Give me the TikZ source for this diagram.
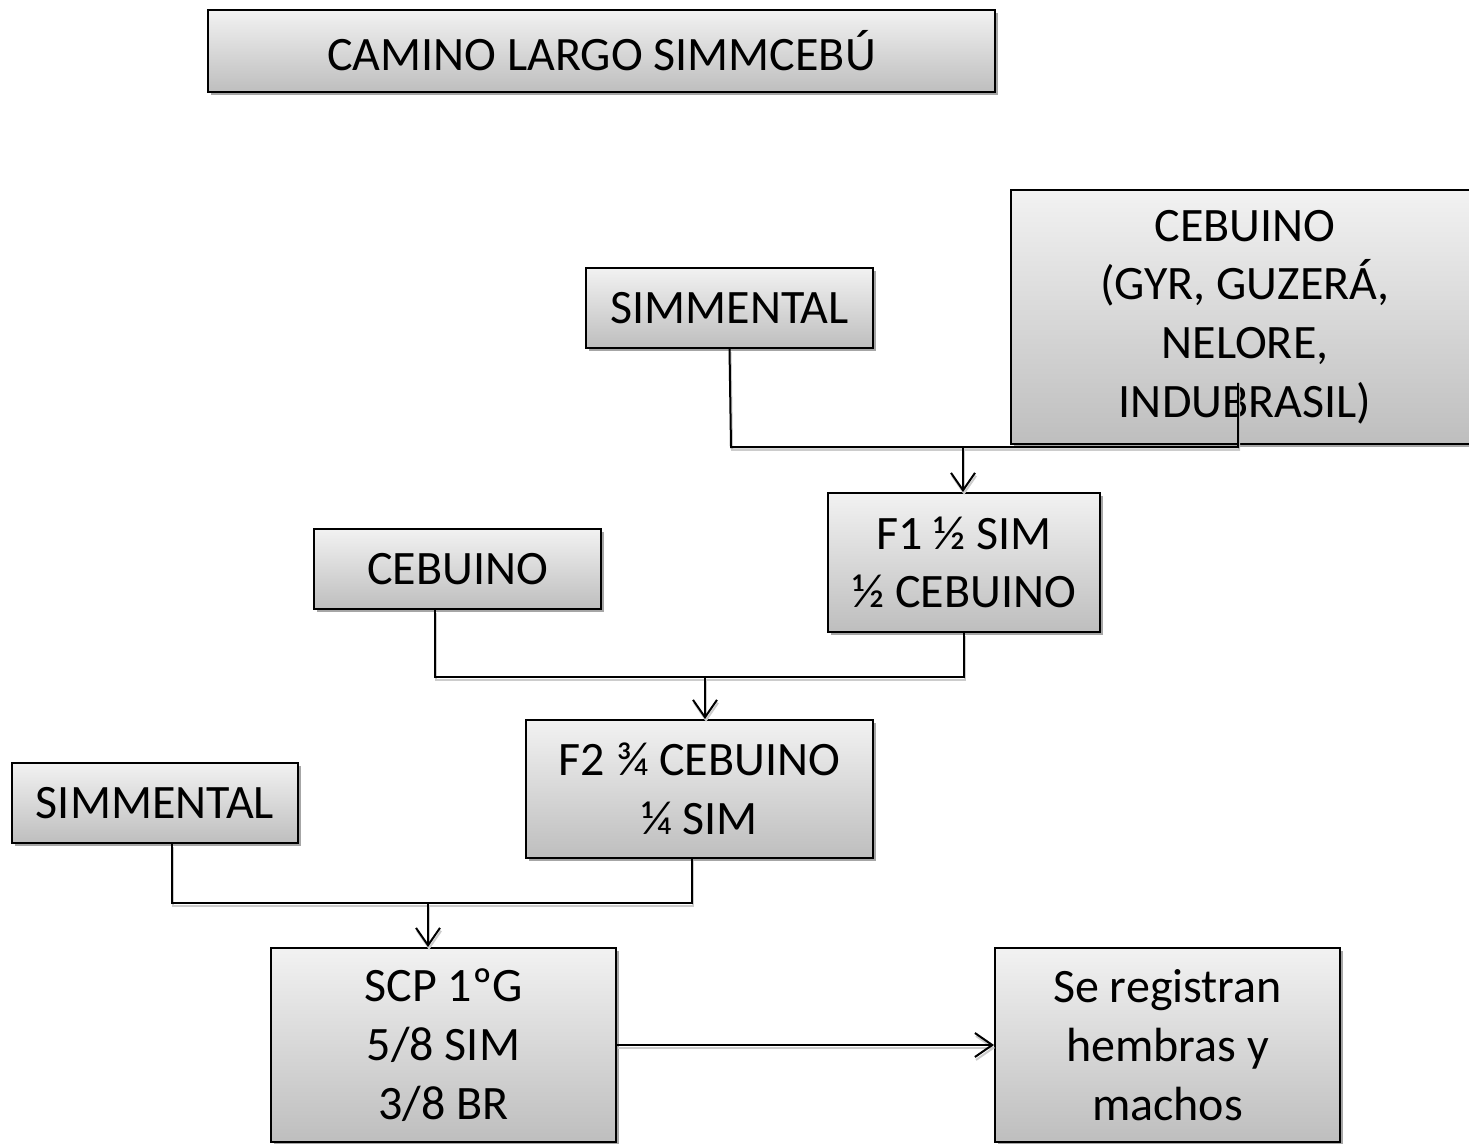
\documentclass[tikz,border=0pt]{standalone}
\usepackage{fontspec}
\setmainfont{Carlito}
\usepackage{tikz}
\usetikzlibrary{shadows,arrows.meta}

\tikzset{
  stepbox/.style={draw=black, line width=1.5pt, rectangle, inner sep=0pt, align=center,
    top color={rgb,255:red,242;green,242;blue,242}, bottom color={rgb,255:red,190;green,190;blue,190},
    drop shadow={shadow xshift=2.5pt, shadow yshift=-2.5pt, fill=gray!70, opacity=1},
    font=\fontsize{36}{44}\selectfont},
  wire/.style={line width=1.5pt, preaction={draw=gray!40, line width=1.5pt, transform canvas={xshift=0.8pt,yshift=-2.2pt}}},
  arr/.style={wire, -{Straight Barb[length=13pt,width=18pt,line width=1.5pt]}}
}

\begin{document}
\begin{tikzpicture}[x=0.75pt,y=0.75pt,yscale=-1,xscale=1]
\useasboundingbox (0,0) rectangle (1469,1144);
\clip (0,0) rectangle (1469,1144);
% Shapes
\node [stepbox, minimum width=590.25pt, minimum height=61.5pt] (title) at (601.5,51) {CAMINO LARGO SIMMCEBÚ};
\node [stepbox, minimum width=215.25pt, minimum height=60pt] (sim1) at (729.5,308) {SIMMENTAL};
\node [stepbox, minimum width=351pt, minimum height=190.5pt] (ceb1) at (1245,317) {CEBUINO\\(GYR, GUZERÁ,\\NELORE,\\INDUBRASIL)};
\node [stepbox, minimum width=204pt, minimum height=104.25pt] (f1) at (964,562.5) {F1 ½ SIM\\½ CEBUINO};
\node [stepbox, minimum width=215.25pt, minimum height=60pt] (ceb2) at (457.5,569) {CEBUINO};
\node [stepbox, minimum width=260.25pt, minimum height=103.5pt] (f2) at (699.5,789) {F2 ¾ CEBUINO\\¼ SIM};
\node [stepbox, minimum width=214.5pt, minimum height=60pt] (sim2) at (155,803) {SIMMENTAL};
\node [stepbox, minimum width=258.75pt, minimum height=145.5pt] (scp) at (443.5,1045) {SCP 1ºG\\5/8 SIM\\3/8 BR};
\node [stepbox, minimum width=258.75pt, minimum height=145.5pt] (reg) at (1167.5,1045) {Se registran\\hembras y\\machos};
% Joints
\coordinate (k1) at (731,447);
\coordinate (c1) at (1238,383);
\coordinate (j1) at (963,447);
\coordinate (k2) at (435,677);
\coordinate (j2) at (705,677);
\coordinate (k3) at (172,903);
\coordinate (m3) at (692,858);
\coordinate (j3) at (428,903);
%Straight Lines
\draw [wire] (sim1.south) -- (k1) -| (c1);
\draw [arr] (j1) -- (f1.north -| j1);
\draw [wire] (ceb2.south -| k2) -- (k2) -| (f1.south);
\draw [arr] (j2) -- (f2.north -| j2);
\draw [wire] (sim2.south -| k3) -- (k3) -| (m3);
\draw [arr] (j3) -- (scp.north -| j3);
\draw [arr] (scp.east) -- (reg.west);
\end{tikzpicture}
\end{document}
